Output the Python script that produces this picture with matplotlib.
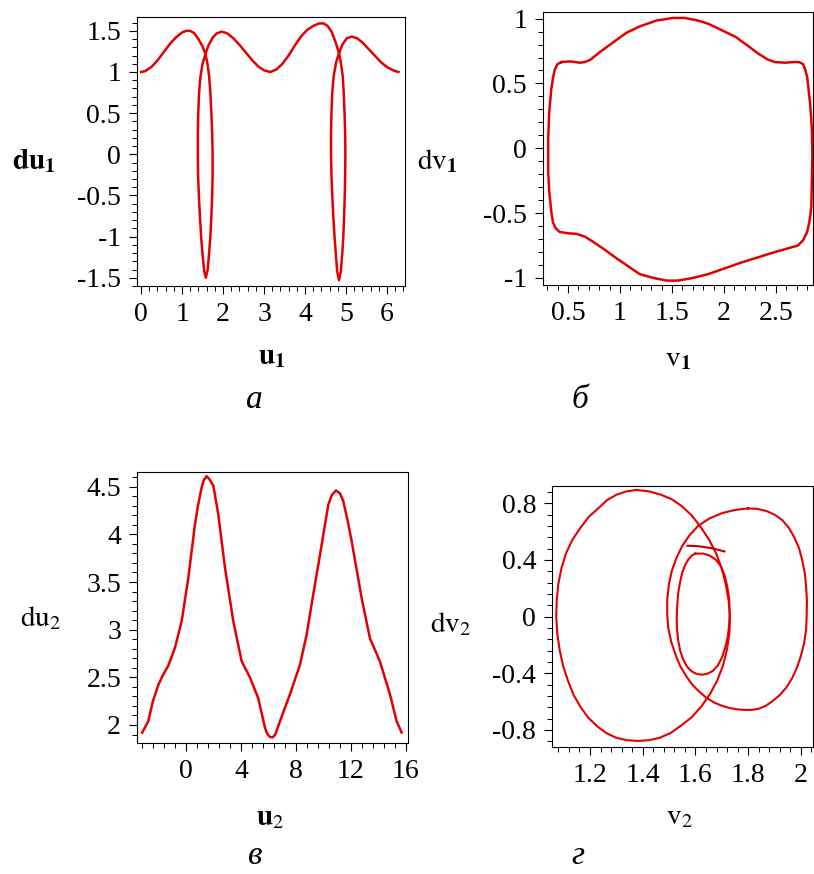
import numpy as np
import matplotlib
matplotlib.use('Agg')
import matplotlib.pyplot as plt
from matplotlib.ticker import FixedLocator, MultipleLocator

plt.rcParams['font.family'] = 'serif'
plt.rcParams['font.serif'] = ['Liberation Serif', 'DejaVu Serif']
plt.rcParams['mathtext.fontset'] = 'stix'
plt.rcParams['axes.unicode_minus'] = False

# (a) du1 vs u1
u1 = [0.00, 0.10, 0.25, 0.40, 0.55, 0.70, 0.85, 1.00, 1.10, 1.20, 1.30, 1.40, 1.50, 1.57,
      1.62, 1.66, 1.69, 1.715, 1.735, 1.745, 1.745, 1.735, 1.715, 1.69, 1.66, 1.625,
      1.58, 1.54, 1.50, 1.465, 1.435, 1.41, 1.39, 1.385, 1.385, 1.395, 1.415, 1.45,
      1.50, 1.57,
      1.65, 1.75, 1.85, 1.97, 2.10, 2.25, 2.40, 2.55, 2.70, 2.85, 3.00, 3.15, 3.30,
      3.45, 3.60, 3.75, 3.90, 4.05, 4.20, 4.35, 4.45, 4.55, 4.65, 4.74, 4.83,
      4.88, 4.92, 4.945, 4.965, 4.98, 4.985, 4.98, 4.97, 4.955, 4.935, 4.91, 4.875,
      4.83, 4.785, 4.75, 4.72, 4.69, 4.665, 4.645, 4.635, 4.635, 4.645, 4.665, 4.70,
      4.76, 4.83,
      4.92, 5.02, 5.14, 5.27, 5.40, 5.55, 5.70, 5.85, 6.00, 6.15, 6.28]
du1 = [1.00, 1.01, 1.06, 1.14, 1.24, 1.34, 1.42, 1.48, 1.50, 1.50, 1.47, 1.40, 1.31, 1.22,
       1.10, 0.95, 0.75, 0.50, 0.25, 0.00, -0.25, -0.50, -0.75, -1.00, -1.20, -1.40,
       -1.50, -1.42, -1.22, -1.00, -0.75, -0.50, -0.25, 0.00, 0.25, 0.50, 0.75, 0.95,
       1.10, 1.22,
       1.33, 1.42, 1.47, 1.49, 1.47, 1.41, 1.33, 1.24, 1.15, 1.07, 1.02, 1.00, 1.03,
       1.10, 1.20, 1.32, 1.43, 1.51, 1.56, 1.59, 1.59, 1.56, 1.49, 1.37, 1.23,
       1.10, 0.95, 0.75, 0.50, 0.25, 0.00, -0.25, -0.50, -0.75, -1.00, -1.20, -1.42,
       -1.53, -1.42, -1.20, -1.00, -0.75, -0.50, -0.25, 0.00, 0.25, 0.50, 0.75, 0.95,
       1.12, 1.23,
       1.34, 1.41, 1.43, 1.41, 1.36, 1.28, 1.20, 1.12, 1.06, 1.02, 1.00]

# (б) dv1 vs v1
v1 = [0.44, 0.52, 0.615, 0.66, 0.71, 0.82, 0.94, 1.06, 1.19, 1.35, 1.51, 1.625,
      1.75, 1.85, 1.98, 2.11, 2.23, 2.33, 2.42, 2.49, 2.59, 2.67, 2.72, 2.76,
      2.78, 2.80, 2.81, 2.83, 2.845, 2.85, 2.845, 2.84, 2.83, 2.82, 2.80, 2.76, 2.71,
      2.60, 2.49, 2.33, 2.17, 2.01, 1.85, 1.70, 1.56, 1.45, 1.32, 1.19,
      1.08, 0.97, 0.85, 0.74, 0.66, 0.58, 0.50, 0.42, 0.38, 0.355, 0.34, 0.32,
      0.31, 0.31, 0.32, 0.34, 0.36, 0.375, 0.40, 0.44]
dv1 = [0.665, 0.67, 0.66, 0.665, 0.68, 0.75, 0.82, 0.89, 0.94, 0.985, 1.005, 1.005,
       0.985, 0.96, 0.91, 0.86, 0.79, 0.73, 0.685, 0.665, 0.66, 0.665, 0.665, 0.65,
       0.61, 0.55, 0.48, 0.33, 0.15, -0.05, -0.25, -0.44, -0.52, -0.57, -0.645, -0.71, -0.75,
       -0.775, -0.80, -0.84, -0.88, -0.925, -0.97, -1.00, -1.02, -1.02, -1.00, -0.97,
       -0.91, -0.85, -0.78, -0.72, -0.68, -0.66, -0.655, -0.645, -0.615, -0.57, -0.49, -0.33,
       -0.18, 0.075, 0.28, 0.46, 0.56, 0.61, 0.65, 0.665]

# (в) du2 vs u2
u2 = [-3.18, -2.74, -2.40, -2.01, -1.65, -1.29, -0.80, -0.31, 0.17, 0.65,
      0.90, 1.14, 1.30, 1.50, 1.70, 1.99, 2.15, 2.35, 2.84, 3.44, 4.05, 4.65,
      5.26, 5.75, 5.90, 6.10, 6.30, 6.50, 6.65, 6.84, 7.56, 8.29, 8.78, 9.26,
      9.87, 10.35, 10.60, 10.91, 11.20, 11.44, 11.75, 12.05, 12.78, 13.38,
      14.10, 14.84, 15.32, 15.69]
du2 = [1.92, 2.04, 2.25, 2.42, 2.53, 2.62, 2.81, 3.09, 3.54, 4.10,
       4.32, 4.49, 4.57, 4.61, 4.58, 4.51, 4.38, 4.21, 3.65, 3.09, 2.67, 2.50,
       2.28, 1.97, 1.91, 1.875, 1.87, 1.90, 1.96, 2.04, 2.32, 2.63, 2.95, 3.37,
       3.89, 4.31, 4.41, 4.46, 4.43, 4.35, 4.15, 3.93, 3.33, 2.91,
       2.67, 2.32, 2.04, 1.92]

# (г) dv2 vs v2 : loops of one trajectory
v2_big = [1.376, 1.424, 1.47, 1.512, 1.548, 1.585, 1.617, 1.651, 1.68, 1.701,
          1.716, 1.726, 1.731, 1.729, 1.72, 1.705, 1.683, 1.655, 1.622, 1.586,
          1.545, 1.507, 1.465, 1.424, 1.382, 1.34, 1.30, 1.262, 1.228, 1.194,
          1.165, 1.138, 1.117, 1.098, 1.085, 1.076, 1.072, 1.074, 1.08, 1.092,
          1.11, 1.134, 1.165, 1.197, 1.235, 1.265, 1.30, 1.336, 1.376]
dv2_big = [0.894, 0.884, 0.86, 0.827, 0.78, 0.716, 0.64, 0.546, 0.44, 0.333,
           0.22, 0.112, 0.00, -0.117, -0.23, -0.343, -0.45, -0.547, -0.635, -0.71,
           -0.77, -0.82, -0.855, -0.872, -0.877, -0.872, -0.855, -0.822, -0.775, -0.714,
           -0.64, -0.553, -0.455, -0.348, -0.235, -0.118, 0.00, 0.117, 0.23, 0.343,
           0.45, 0.545, 0.63, 0.707, 0.77, 0.823, 0.86, 0.883, 0.894]
v2_right = [1.80, 1.836, 1.87, 1.902, 1.93, 1.955, 1.975, 1.993, 2.005, 2.015,
            2.02, 2.023, 2.022, 2.02, 2.012, 2.0, 1.985, 1.967, 1.945, 1.919,
            1.89, 1.866, 1.84, 1.818, 1.795, 1.762, 1.73, 1.699, 1.67, 1.641,
            1.615, 1.588, 1.565, 1.542, 1.525, 1.508, 1.497, 1.493, 1.493, 1.499,
            1.51, 1.528, 1.55, 1.578, 1.61, 1.652, 1.70, 1.75, 1.80]
dv2_right = [0.764, 0.76, 0.745, 0.718, 0.68, 0.625, 0.56, 0.483, 0.40, 0.306,
             0.21, 0.11, 0.01, -0.09, -0.19, -0.278, -0.36, -0.434, -0.50, -0.555,
             -0.60, -0.63, -0.65, -0.657, -0.659, -0.655, -0.645, -0.628, -0.605, -0.572,
             -0.53, -0.48, -0.42, -0.348, -0.27, -0.177, -0.08, 0.02, 0.12, 0.222,
             0.32, 0.414, 0.50, 0.575, 0.64, 0.692, 0.73, 0.753, 0.764]
v2_inner = [1.60, 1.63, 1.655, 1.678, 1.695, 1.71, 1.72, 1.728, 1.73, 1.728,
            1.722, 1.712, 1.70, 1.685, 1.665, 1.645, 1.624, 1.603, 1.585, 1.567,
            1.553, 1.542, 1.535, 1.53, 1.529, 1.531, 1.535, 1.542, 1.55, 1.56,
            1.572, 1.585, 1.60]
dv2_inner = [0.445, 0.445, 0.43, 0.40, 0.36, 0.295, 0.22, 0.125, 0.03, -0.06,
             -0.15, -0.225, -0.29, -0.345, -0.385, -0.403, -0.41, -0.403, -0.385, -0.35,
             -0.30, -0.24, -0.17, -0.085, 0.00, 0.085, 0.17, 0.245, 0.31, 0.36,
             0.40, 0.43, 0.445]
v2_arc = [1.57, 1.595, 1.62, 1.645, 1.67, 1.69, 1.71]
dv2_arc = [0.50, 0.499, 0.495, 0.488, 0.48, 0.47, 0.46]

RED = '#e30000'
W, H = 814, 874
fig = plt.figure(figsize=(W / 100, H / 100), dpi=100)


def add_axes(x0, y0, x1, y1):
    return fig.add_axes([x0 / W, 1 - y1 / H, (x1 - x0) / W, (y1 - y0) / H])


def style(ax, xt, xl, yt, yl, xmin, ymin, xlim, ylim):
    ax.set_xlim(*xlim)
    ax.set_ylim(*ylim)
    ax.xaxis.set_major_locator(FixedLocator(xt))
    ax.set_xticklabels(xl)
    ax.yaxis.set_major_locator(FixedLocator(yt))
    ax.set_yticklabels(yl)
    ax.xaxis.set_minor_locator(MultipleLocator(xmin))
    ax.yaxis.set_minor_locator(MultipleLocator(ymin))
    ax.tick_params(which='major', direction='out', length=5.5, width=0.8,
                   labelsize=20, pad=6)
    ax.tick_params(which='minor', direction='out', length=3.5, width=0.7)
    for s in ax.spines.values():
        s.set_linewidth(0.8)


def text(x, y, s, **kw):
    fig.text(x / W, 1 - y / H, s, **kw)


ax = add_axes(137, 17, 405, 286)
ax.plot(u1, du1, color=RED, lw=1.8)
style(ax, [0, 1, 2, 3, 4, 5, 6], ['0', '1', '2', '3', '4', '5', '6'],
      [-1.5, -1, -0.5, 0, 0.5, 1, 1.5], ['-1.5', '-1', '-0.5', '0', '0.5', '1', '1.5'],
      0.2, 0.1, (-0.1, 6.44), (-1.6, 1.668))

ax = add_axes(543, 12, 813, 285)
ax.plot(v1, dv1, color=RED, lw=1.8)
style(ax, [0.5, 1, 1.5, 2, 2.5], ['0.5', '1', '1.5', '2', '2.5'],
      [-1, -0.5, 0, 0.5, 1], ['-1', '-0.5', '0', '0.5', '1'],
      0.1, 0.1, (0.26, 2.856), (-1.054, 1.051))

ax = add_axes(137, 472, 408, 743)
ax.plot(u2, du2, color=RED, lw=1.8)
style(ax, [0, 4, 8, 12, 16], ['0', '4', '8', '12', '16'],
      [2, 2.5, 3, 3.5, 4, 4.5], ['2', '2.5', '3', '3.5', '4', '4.5'],
      0.8, 0.1, (-3.56, 16.15), (1.811, 4.654))

ax = add_axes(552, 486, 813, 747)
ax.plot(v2_big, dv2_big, color=RED, lw=1.5)
ax.plot(v2_right, dv2_right, color=RED, lw=1.5)
ax.plot(v2_inner, dv2_inner, color=RED, lw=1.5)
ax.plot(v2_arc, dv2_arc, color='#c00000', lw=1.5)
style(ax, [1.2, 1.4, 1.6, 1.8, 2], ['1.2', '1.4', '1.6', '1.8', '2'],
      [-0.8, -0.4, 0, 0.4, 0.8], ['-0.8', '-0.4', '0', '0.4', '0.8'],
      0.04, 0.08, (1.056, 2.046), (-0.92, 0.922))

# axis names
lab = dict(fontsize=21, va='center')
text(12, 161, r'$\mathbf{du}_{\mathbf{1}}$', ha='left', **lab)
text(272, 357, r'$\mathbf{u}_{\mathbf{1}}$', ha='center', **lab)
text(417, 161, r'$\mathrm{dv}_{\mathbf{1}}$', ha='left', **lab)
text(678, 359, r'$\mathrm{v}_{\mathbf{1}}$', ha='center', **lab)
text(20, 618, r'$\mathrm{du}_{2}$', ha='left', **lab)
text(270, 818, r'$\mathbf{u}_{2}$', ha='center', **lab)
text(430, 624, r'$\mathrm{dv}_{2}$', ha='left', **lab)
text(679, 817, r'$\mathrm{v}_{2}$', ha='center', **lab)

# panel letters
cap = dict(fontsize=24, style='italic', ha='center', va='baseline')
text(254, 408, 'а', **cap)
text(580, 408, 'б', **cap)
text(255, 864, 'в', **cap)
text(578, 864, 'г', **cap)

fig.savefig('out.png', dpi=100)
